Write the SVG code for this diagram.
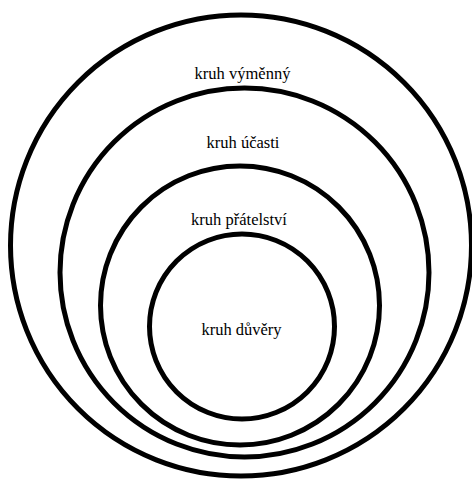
<svg xmlns="http://www.w3.org/2000/svg" width="472" height="480" viewBox="0 0 472 480">
<style>
.ring{fill:none;stroke:#000;stroke-width:5}
.lbl{font-family:'Liberation Serif','Times New Roman',serif;font-size:16.5px;fill:#000;text-anchor:middle}
</style>
<rect width="472" height="480" fill="#fff"/>
<g id="kruh-vymenny">
<circle class="ring" cx="241" cy="245.5" r="230.5"/>
<text class="lbl" x="242.5" y="78.5">kruh výměnný</text>
</g>
<g id="kruh-ucasti">
<circle class="ring" cx="244.5" cy="272.5" r="184.5"/>
<text class="lbl" x="243" y="148">kruh účasti</text>
</g>
<g id="kruh-pratelstvi">
<circle class="ring" cx="240" cy="305.5" r="139.5"/>
<text class="lbl" x="239" y="225">kruh přátelství</text>
</g>
<g id="kruh-duvery">
<circle class="ring" cx="242" cy="326.5" r="92.5"/>
<text class="lbl" x="241.5" y="335">kruh důvěry</text>
</g>
<g id="connectors"/>
</svg>
